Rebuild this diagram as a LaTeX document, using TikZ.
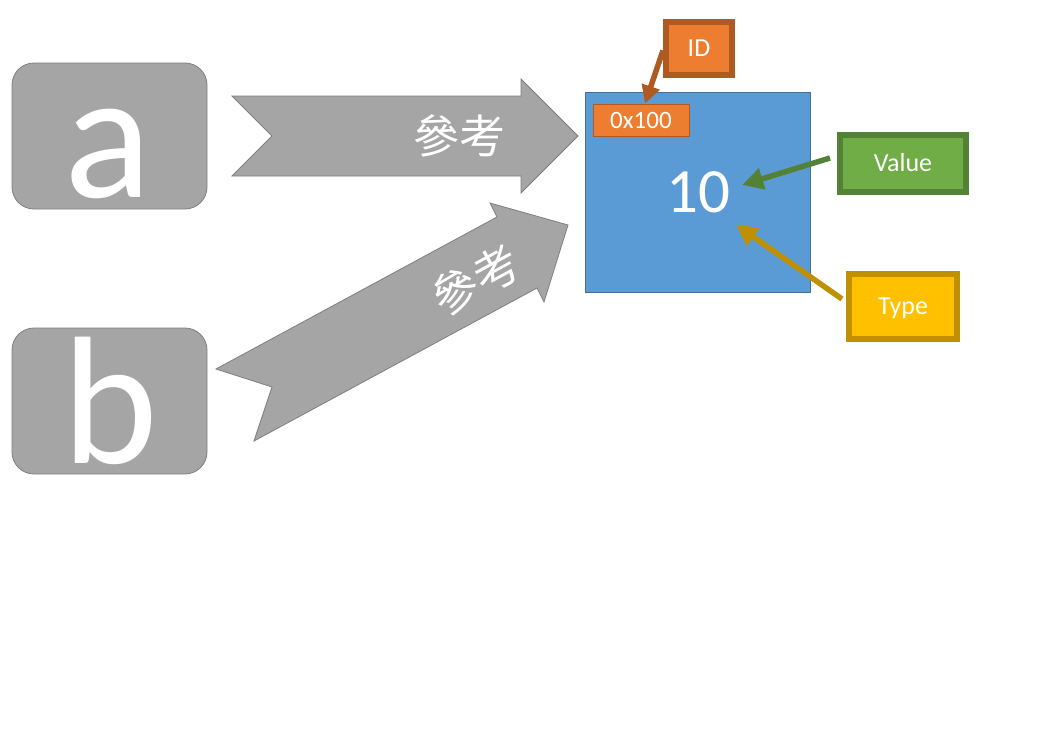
\documentclass[tikz,border=0pt]{standalone}
\usepackage{fontspec}
\setmainfont{Carlito}
\newfontfamily\cjkfont{Noto Sans CJK TC}
\usetikzlibrary{arrows.meta}
\definecolor{gfill}{HTML}{A5A5A5}
\definecolor{gline}{HTML}{7F7F7F}
\definecolor{bfill}{HTML}{5B9BD5}
\definecolor{bline}{HTML}{41719C}
\definecolor{ofill}{HTML}{ED7D31}
\definecolor{oline}{HTML}{AE5A21}
\definecolor{vfill}{HTML}{70AD47}
\definecolor{vline}{HTML}{538135}
\definecolor{tfill}{HTML}{FFC000}
\definecolor{tline}{HTML}{BF9000}
\tikzset{
  varbox/.style={draw=gline, fill=gfill, line width=0.8pt, rounded corners=22pt,
    minimum width=195pt, minimum height=146pt, inner sep=0pt},
  bigletter/.style={text=white, font=\fontsize{182}{182}\selectfont, inner sep=0pt},
  blockarrow/.style={draw=gline, fill=gfill, line width=0.8pt},
  cjklabel/.style={text=white, font=\cjkfont\fontsize{46}{46}\selectfont, inner sep=0pt},
  tagbox/.style={line width=6pt, text=white, font=\fontsize{26}{26}\selectfont,
    text height=16.5pt, text depth=0pt, inner sep=0pt},
  callout/.style={line width=5.5pt, -{Triangle[length=21pt,width=21pt]}},
}
\begin{document}
\begin{tikzpicture}[x=1pt,y=-1pt]
\useasboundingbox[fill=white] (0,0) rectangle (1053,731);
% variables
\node[varbox] (boxa) at (109.5,136) {};
\node[bigletter] (la) at (108,154) {a};
\node[varbox] (boxb) at (109.5,401) {};
\node[bigletter] (lb) at (110,401) {b};
% reference arrows
\draw[blockarrow] (232,96) -- (521,96) -- (521,79) -- (578,136) -- (521,193)
  -- (521,176) -- (232,176) -- (272,136) -- cycle;
\node[cjklabel] (ref1) at (459,136) {參考};
\draw[blockarrow] (216,369) -- (497,217) -- (490,203) -- (568,225) -- (544,302)
  -- (537,288) -- (254,441) -- (272,387) -- cycle;
\node[cjklabel, rotate=28.5] (ref2) at (476,280) {參考};
% object
\node[draw=bline, fill=bfill, line width=0.8pt, minimum width=225pt,
  minimum height=200pt, inner sep=0pt] (obj) at (697.5,192) {};
\node[text=white, font=\fontsize{63}{63}\selectfont, inner sep=0pt] (ten) at (698,192) {10};
\node[draw=oline, fill=ofill, line width=0.8pt, minimum width=96pt, minimum height=32pt,
  inner sep=0pt, text=white, font=\fontsize{25}{25}\selectfont] (addr) at (641,120) {0x100};
% tags
\node[tagbox, draw=oline, fill=ofill, minimum width=66pt, minimum height=53pt] (id) at (699,48.5) {ID};
\node[tagbox, draw=vline, fill=vfill, minimum width=126pt, minimum height=57pt] (val) at (903,163.5) {Value};
\node[tagbox, draw=tline, fill=tfill, minimum width=108pt, minimum height=65pt] (typ) at (903,306.5) {Type};
% callouts
\draw[callout, draw=oline, fill=oline, -{Triangle[length=18pt,width=18pt]}]
  ([shift={(0,2)}]id.west) -- ([shift={(4,0)}]addr.north);
\draw[callout, draw=vline, fill=vline] ([shift={(-7,-5.5)}]val.west) -- ([shift={(12,-7)}]ten.east);
\draw[callout, draw=tline, fill=tline] ([shift={(-4,-7.5)}]typ.west) -- ([shift={(6,12)}]ten.south east);
\end{tikzpicture}
\end{document}
